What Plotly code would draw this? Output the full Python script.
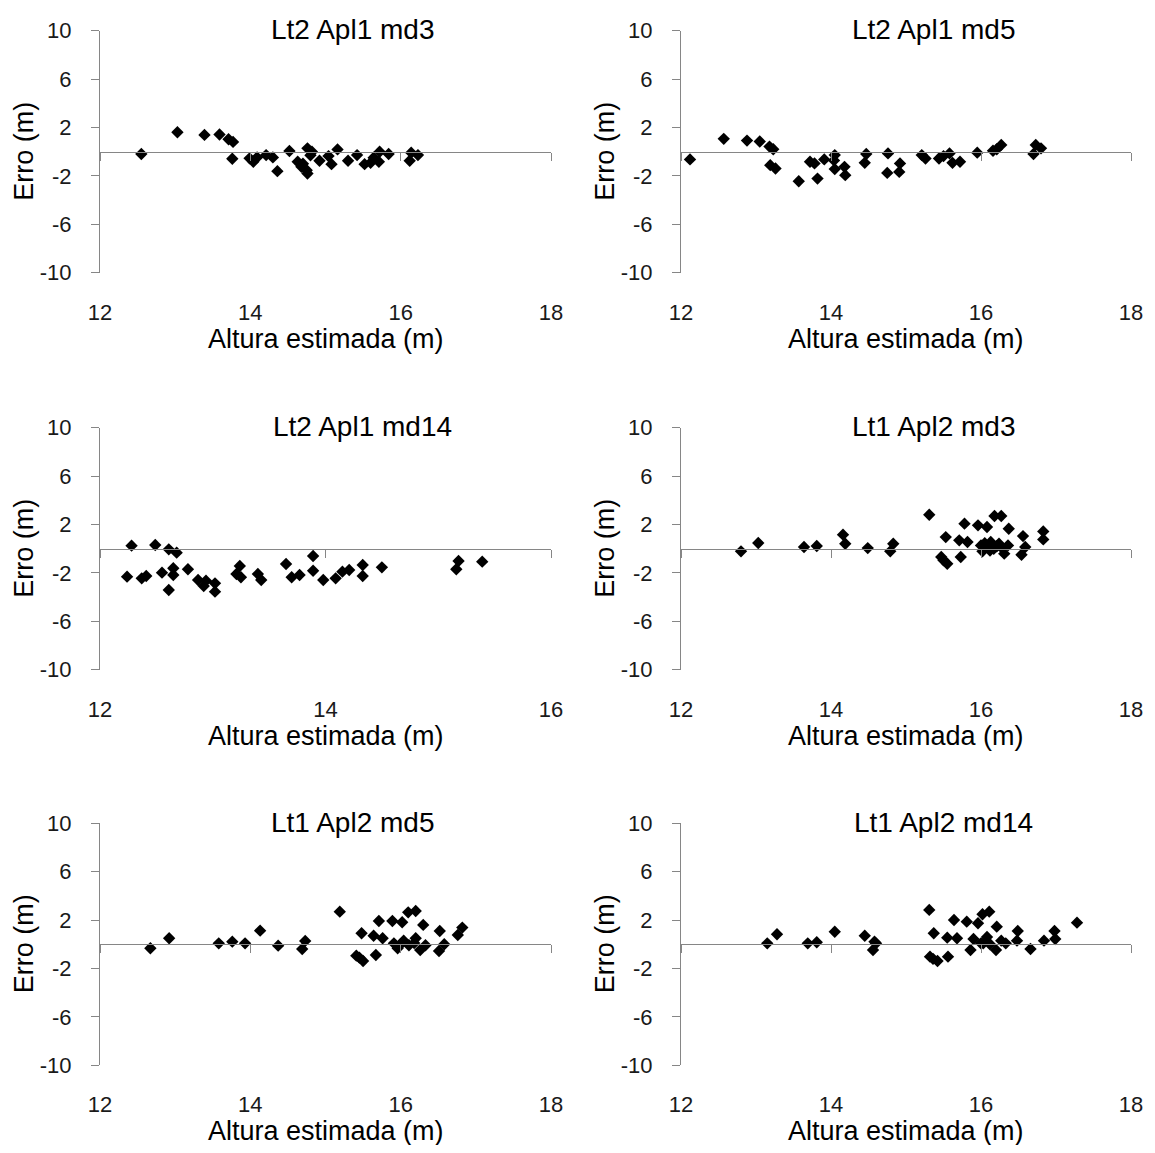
import plotly.graph_objects as go

# ---------------- data ----------------
titles = ["Lt2 Apl1 md3", "Lt2 Apl1 md5", "Lt2 Apl1 md14",
          "Lt1 Apl2 md3", "Lt1 Apl2 md5", "Lt1 Apl2 md14"]

x_lt2_apl1_md3 = [12.55, 13.03, 13.39, 13.59, 13.71, 13.77, 13.76, 13.99, 14.04, 14.09, 14.21, 14.30,
                  14.36, 14.52, 14.63, 14.68, 14.75, 14.76, 14.76, 14.82, 14.92, 15.04, 15.08, 15.16,
                  15.30, 15.42, 15.52, 15.60, 15.64, 15.72, 15.71, 15.84, 16.14, 16.12, 16.23, 14.80, 14.70]
y_lt2_apl1_md3 = [-0.19, 1.61, 1.39, 1.42, 1.03, 0.81, -0.58, -0.55, -0.83, -0.47, -0.28, -0.47,
                  -1.61, 0.06, -0.83, -1.25, -1.53, -1.80, 0.28, 0.00, -0.75, -0.36, -1.03, 0.19,
                  -0.75, -0.28, -1.03, -0.92, -0.50, 0.00, -0.83, -0.19, -0.08, -0.75, -0.28, -0.30, -1.00]

x_lt2_apl1_md5 = [12.12, 12.57, 12.88, 13.05, 13.18, 13.23, 13.19, 13.26, 13.57, 13.72, 13.78, 13.82,
                  13.91, 14.05, 14.05, 14.04, 14.18, 14.19, 14.47, 14.45, 14.76, 14.75, 14.92, 14.91,
                  15.21, 15.26, 15.44, 15.50, 15.58, 15.62, 15.72, 15.95, 16.16, 16.21, 16.27, 16.70,
                  16.73, 16.80]
y_lt2_apl1_md5 = [-0.64, 1.06, 0.92, 0.84, 0.42, 0.20, -1.11, -1.39, -2.44, -0.83, -0.97, -2.22,
                  -0.64, -0.28, -1.44, -0.72, -1.25, -1.94, -0.19, -0.92, -0.14, -1.75, -0.97, -1.67,
                  -0.28, -0.56, -0.56, -0.36, -0.14, -0.92, -0.83, -0.08, 0.08, 0.20, 0.56, -0.19,
                  0.56, 0.28]

x_lt2_apl1_md14 = [12.28, 12.24, 12.37, 12.41, 12.49, 12.55, 12.61, 12.61, 12.65, 12.65, 12.68, 12.78,
                   12.87, 12.92, 12.94, 13.02, 13.02, 13.21, 13.24, 13.25, 13.40, 13.43, 13.65, 13.70,
                   13.77, 13.89, 13.89, 13.98, 14.09, 14.15, 14.21, 14.33, 14.33, 14.50, 15.16, 15.18,
                   15.39]
y_lt2_apl1_md14 = [0.25, -2.31, -2.45, -2.26, 0.31, -1.98, -0.05, -3.41, -1.62, -2.17, -0.33, -1.70,
                   -2.59, -3.08, -2.64, -2.86, -3.55, -2.09, -1.43, -2.36, -2.09, -2.59, -1.26, -2.36,
                   -2.17, -0.60, -1.82, -2.59, -2.45, -1.90, -1.76, -1.35, -2.26, -1.54, -1.70, -1.02,
                   -1.07]

x_lt1_apl2_md3 = [12.80, 13.03, 13.64, 13.81, 14.16, 14.19, 14.49, 14.79, 14.83, 15.31, 15.53, 15.47,
                  15.55, 15.73, 15.78, 15.71, 15.82, 15.96, 16.08, 16.18, 16.27, 16.37, 16.00, 16.02,
                  16.13, 16.17, 16.24, 16.31, 16.36, 16.09, 16.56, 16.59, 16.54, 16.83, 16.83, 16.05,
                  16.21, 16.28, 16.12, 15.50]
y_lt1_apl2_md3 = [-0.22, 0.47, 0.14, 0.22, 1.16, 0.41, 0.05, -0.22, 0.41, 2.81, 0.96, -0.69,
                  -1.24, -0.69, 2.07, 0.69, 0.55, 1.93, 1.79, 2.70, 2.70, 1.65, 0.27, -0.22,
                  0.55, 0.00, 0.41, -0.41, 0.27, 0.14, 1.04, 0.14, -0.50, 1.43, 0.77, 0.45,
                  0.20, 0.05, -0.15, -0.95]

x_lt1_apl2_md5 = [12.67, 12.92, 13.58, 13.76, 13.93, 14.13, 14.37, 14.69, 14.73, 15.19, 15.48, 15.41,
                  15.50, 15.67, 15.71, 15.64, 15.76, 15.89, 16.02, 16.10, 16.20, 16.30, 15.91, 15.96,
                  16.04, 16.11, 16.20, 16.26, 16.33, 16.52, 16.58, 16.51, 16.76, 16.82, 16.00, 16.18,
                  15.45]
y_lt1_apl2_md5 = [-0.33, 0.50, 0.08, 0.22, 0.08, 1.13, -0.11, -0.39, 0.28, 2.70, 0.91, -0.94,
                  -1.38, -0.88, 1.93, 0.71, 0.50, 1.93, 1.82, 2.64, 2.75, 1.60, 0.08, -0.33,
                  0.30, -0.08, 0.50, -0.47, -0.08, 1.10, 0.00, -0.55, 0.77, 1.38, 0.00, 0.10,
                  -1.10]

x_lt1_apl2_md14 = [13.15, 13.28, 13.69, 13.81, 14.05, 14.45, 14.58, 14.60, 14.56, 15.31, 15.37, 15.32,
                   15.42, 15.56, 15.55, 15.68, 15.64, 15.81, 15.96, 16.02, 16.11, 16.21, 15.86, 15.90,
                   16.03, 16.08, 16.12, 16.20, 16.27, 16.33, 16.49, 16.48, 16.66, 16.84, 16.98, 16.99,
                   17.28, 16.00, 15.36]
y_lt1_apl2_md14 = [0.08, 0.83, 0.08, 0.17, 1.04, 0.71, 0.22, 0.08, -0.47, 2.84, 0.91, -1.02,
                   -1.38, -1.02, 0.55, 0.50, 2.01, 1.87, 1.74, 2.48, 2.70, 1.46, -0.47, 0.44,
                   0.08, 0.60, 0.00, -0.47, 0.30, 0.08, 1.10, 0.30, -0.39, 0.30, 1.10, 0.44,
                   1.79, 0.08, -1.20]

x_ranges = [[12, 18], [12, 18], [12, 16], [12, 18], [12, 18], [12, 18]]
x_ticks = [[12, 14, 16, 18], [12, 14, 16, 18], [12, 14, 16], [12, 14, 16, 18], [12, 14, 16, 18], [12, 14, 16, 18]]
y_range = [-10, 10]
y_ticks = [-10, -6, -2, 2, 6, 10]
x_title = "Altura estimada (m)"
y_title = "Erro (m)"

xs = [x_lt2_apl1_md3, x_lt2_apl1_md5, x_lt2_apl1_md14, x_lt1_apl2_md3, x_lt1_apl2_md5, x_lt1_apl2_md14]
ys = [y_lt2_apl1_md3, y_lt2_apl1_md5, y_lt2_apl1_md14, y_lt1_apl2_md3, y_lt1_apl2_md5, y_lt1_apl2_md14]

# ---------------- layout ----------------
PAGE_W, PAGE_H = 1155, 1153
BODY_MARGIN = 8  # default page margin around the figure div
W, H = PAGE_W - 2 * BODY_MARGIN, PAGE_H - 2 * BODY_MARGIN
FONT = "Liberation Sans, Arial, sans-serif"
GRAY = "#868686"


def px_x(p):
    return (p - BODY_MARGIN) / W


def px_y(p):
    return 1 - (p - BODY_MARGIN) / H


col_px = [(100, 551), (681, 1131)]
row_px = [(30.7, 272.7), (427.7, 669.7), (823.3, 1065.3)]
title_cx = [352, 933, 362, 933, 352, 943]

fig = go.Figure()
layout = dict(width=W, height=H, autosize=False,
              margin=dict(l=0, r=0, t=0, b=0, pad=0, autoexpand=False),
              paper_bgcolor="white", plot_bgcolor="white", showlegend=False,
              font=dict(family=FONT, color="#000000"))
annotations = []

for i in range(6):
    n = i + 1
    r, c = divmod(i, 2)
    x0, x1 = col_px[c]
    yt, yb = row_px[r]
    xd = [px_x(x0), px_x(x1)]
    yd = [px_y(yb), px_y(yt)]
    xa = "x" if n == 1 else f"x{n}"
    ya = "y" if n == 1 else f"y{n}"
    ov = f"x{n + 6}"

    fig.add_trace(go.Scatter(x=xs[i], y=ys[i], mode="markers", xaxis=xa, yaxis=ya,
                             marker=dict(symbol="diamond", size=9.5, color="black",
                                         line=dict(width=0)),
                             hoverinfo="x+y"))
    # empty trace to activate overlay axis drawn along the zero line
    fig.add_trace(go.Scatter(x=[], y=[], xaxis=ov, yaxis=ya, mode="markers",
                             hoverinfo="skip"))

    layout[f"xaxis{n}"] = dict(domain=xd, anchor=ya, range=x_ranges[i], tickvals=x_ticks[i],
                               ticktext=[str(v) for v in x_ticks[i]], automargin=False,
                               showline=False, showgrid=False, zeroline=False, ticks="",
                               ticklabelstandoff=24,
                               tickfont=dict(size=22, family=FONT, color="#1a1a1a"))
    zero_pos = (yd[0] + yd[1]) / 2 if (y_range[0] + y_range[1]) == 0 else yd[0]
    layout[f"xaxis{n + 6}"] = dict(overlaying=xa, anchor="free", position=zero_pos,
                                   range=x_ranges[i], tickvals=x_ticks[i], automargin=False,
                                   showline=True, linecolor=GRAY, linewidth=1,
                                   ticks="outside", ticklen=8, tickcolor=GRAY, tickwidth=1,
                                   showticklabels=False, showgrid=False, zeroline=False)
    layout[f"yaxis{n}"] = dict(domain=yd, anchor=xa, range=y_range, tickvals=y_ticks,
                               ticktext=[str(v) for v in y_ticks], automargin=False,
                               showline=True, linecolor=GRAY, linewidth=1,
                               ticks="outside", ticklen=8, tickcolor=GRAY, tickwidth=1,
                               ticklabelstandoff=15,
                               showgrid=False, zeroline=False,
                               tickfont=dict(size=22, family=FONT, color="#1a1a1a"))

    # chart title
    annotations.append(dict(text=titles[i], xref="paper", yref="paper",
                            x=px_x(title_cx[i]), y=px_y(yt - 1), xanchor="center", yanchor="middle",
                            showarrow=False, font=dict(size=28, family=FONT, color="#000000")))
    # x axis title
    annotations.append(dict(text=x_title, xref="paper", yref="paper",
                            x=px_x((x0 + x1) / 2), y=px_y(yb + 66), xanchor="center", yanchor="middle",
                            showarrow=False, font=dict(size=27, family=FONT, color="#000000")))
    # y axis title
    annotations.append(dict(text=y_title, xref="paper", yref="paper", textangle=-90,
                            x=px_x(x0 - 76), y=(yd[0] + yd[1]) / 2, xanchor="center", yanchor="middle",
                            showarrow=False, font=dict(size=27, family=FONT, color="#000000")))

layout["annotations"] = annotations
fig.update_layout(**layout)
fig.write_html("out.html")
